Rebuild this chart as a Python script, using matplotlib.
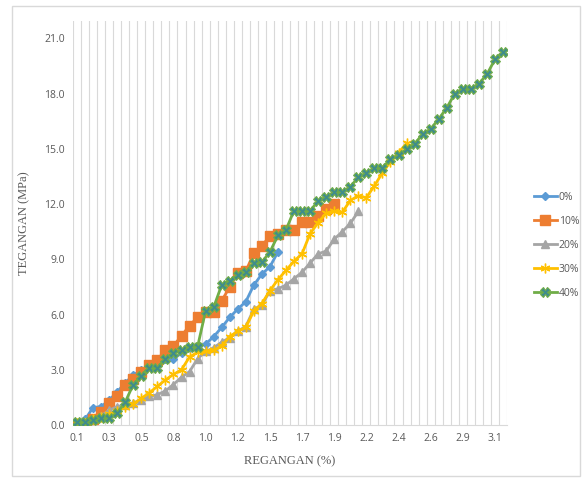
import matplotlib
matplotlib.use("Agg")
import matplotlib.pyplot as plt
from matplotlib.patches import Rectangle
import numpy as np

# ---- data (one value per strain category) ----
tick_labels = ["0.1", "0.3", "0.5", "0.8", "1.0", "1.2", "1.5", "1.7",
               "1.9", "2.2", "2.4", "2.6", "2.9", "3.1"]
n_categories = 54

s0 = [0.1, 0.3, 0.95, 1.0, 1.35, 1.8, 2.3, 2.7, 3.0, 3.2, 3.5, 3.6, 3.6,
      3.9, 4.2, 4.3, 4.4, 4.8, 5.3, 5.85, 6.3, 6.7, 7.6, 8.2, 8.6, 9.4]
s10 = [0.0, 0.0, 0.3, 0.7, 1.2, 1.6, 2.2, 2.5, 2.9, 3.25, 3.55, 4.05, 4.3,
       4.85, 5.4, 5.85, 6.15, 6.15, 6.75, 7.5, 8.25, 8.35, 9.35, 9.75,
       10.25, 10.4, 10.6, 10.6, 11.05, 11.05, 11.35, 11.75, 12.0]
s20 = [0.1, 0.15, 0.3, 0.5, 0.8, 1.0, 1.1, 1.2, 1.35, 1.55, 1.65, 1.85,
       2.2, 2.6, 2.9, 3.6, 4.0, 4.2, 4.5, 4.75, 5.1, 5.35, 6.3, 6.5, 7.3,
       7.4, 7.6, 7.95, 8.3, 8.8, 9.3, 9.45, 10.1, 10.5, 10.95, 11.6]
s30 = [0.1, 0.1, 0.3, 0.45, 0.6, 0.75, 1.0, 1.15, 1.45, 1.75, 2.1, 2.45,
       2.75, 3.0, 3.7, 3.95, 4.0, 4.05, 4.3, 4.8, 5.1, 5.3, 6.2, 6.6, 7.3,
       7.9, 8.4, 8.9, 9.3, 10.4, 11.0, 11.5, 11.6, 11.55, 12.2, 12.45,
       12.35, 13.0, 13.7, 14.3, 14.8, 15.3]
s40 = [0.15, 0.15, 0.25, 0.4, 0.4, 0.65, 1.25, 2.2, 2.65, 3.1, 3.1, 3.6,
       3.9, 4.05, 4.25, 4.25, 6.2, 6.4, 7.6, 7.85, 8.15, 8.3, 8.8, 8.85,
       9.4, 10.3, 10.6, 11.65, 11.65, 11.65, 12.15, 12.4, 12.65, 12.65,
       12.95, 13.45, 13.7, 13.97, 13.97, 14.45, 14.65, 15.0, 15.28, 15.8,
       16.09, 16.62, 17.23, 18.0, 18.28, 18.28, 18.54, 19.05, 19.86, 20.24]
series_names = ["0%", "10%", "20%", "30%", "40%"]
y_ticks = [0, 3, 6, 9, 12, 15, 18, 21]

# ---- figure ----
fig = plt.figure(figsize=(5.85, 4.8), dpi=100)
fig.patch.set_facecolor("white")
fig.add_artist(Rectangle((12 / 585, 4 / 480), 568 / 585, 470 / 480,
                         transform=fig.transFigure, fill=False,
                         edgecolor="#D9D9D9", linewidth=1.0))

ax = fig.add_axes([73 / 585, 1 - 425 / 480, 434 / 585, (425 - 21) / 480])
ax.set_xlim(-0.5, n_categories - 0.5)
ax.set_ylim(0, 21.95)

# vertical category gridlines (between categories)
for b in np.arange(-0.5, n_categories, 1.0):
    ax.axvline(b, color="#D9D9D9", linewidth=0.8, zorder=0)

styles = [
    dict(color="#5B9BD5", marker="D", ms=4.5, mfc="#5B9BD5", mec="#5B9BD5"),
    dict(color="#ED7D31", marker="s", ms=7.5, mfc="#ED7D31", mec="#ED7D31"),
    dict(color="#A5A5A5", marker="^", ms=6, mfc="#A5A5A5", mec="#A5A5A5"),
    dict(color="#FFC000", marker=(6, 2, 0), ms=7, mfc="#FFC000",
         mec="#FFC000", mew=1.0),
    dict(color="#70AD47", marker="X", ms=6.5, mfc="#3F8C8C", mec="#70AD47",
         mew=0.8),
]
for name, vals, st in zip(series_names, [s0, s10, s20, s30, s40], styles):
    x = np.arange(len(vals))
    ax.plot(x, vals, linewidth=2.0, label=name, zorder=3, **st)

ax.set_xticks(np.arange(0, n_categories, 4))
ax.set_xticklabels(tick_labels)
ax.set_yticks(y_ticks)
ax.set_yticklabels([f"{v:.1f}" for v in y_ticks])
ax.tick_params(axis="both", length=0, labelsize=7.5, colors="#595959", pad=6)
for lab in ax.get_xticklabels() + ax.get_yticklabels():
    lab.set_family("Open Sans")

for side in ["top", "right", "left"]:
    ax.spines[side].set_visible(False)
ax.spines["bottom"].set_color("#D9D9D9")
ax.set_facecolor("white")

ax.set_xlabel("REGANGAN (%)", family="Liberation Serif", fontsize=9,
              color="#595959", labelpad=8)
ax.set_ylabel("TEGANGAN (MPa)", family="Liberation Serif", fontsize=9,
              color="#595959", labelpad=10)

leg = ax.legend(loc="center left", bbox_to_anchor=(1.04, 0.445), frameon=False,
                fontsize=7.5, handlelength=2.2, labelspacing=1.25,
                handletextpad=0.2)
for t in leg.get_texts():
    t.set_color("#595959")
    t.set_family("Open Sans")

fig.savefig("out.png", dpi=100, facecolor="white")
